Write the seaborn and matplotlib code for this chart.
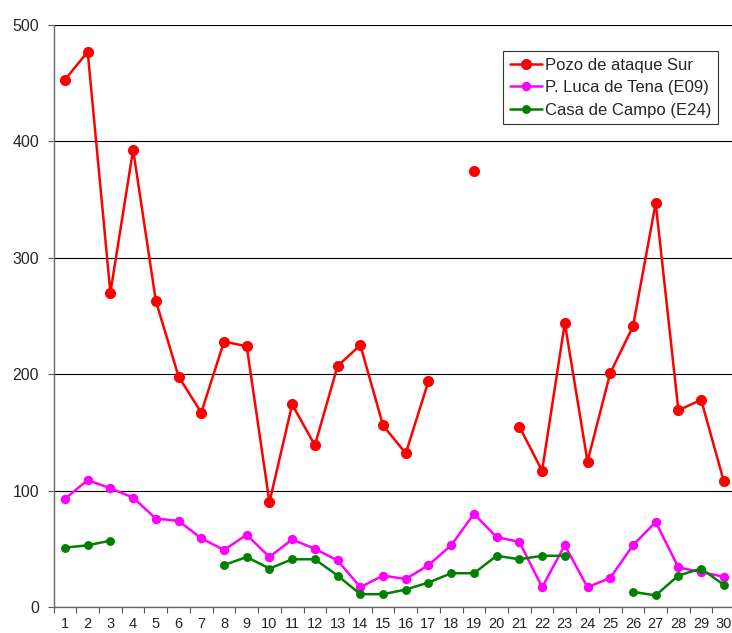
import numpy as np
import pandas as pd
import matplotlib
matplotlib.use("Agg")
import matplotlib.pyplot as plt
import seaborn as sns

days = list(range(1, 31))
pozo = [453, 477, 270, 393, 263, 198, 167, 228, 224, 90,
        174, 139, 207, 225, 156, 132, 194, np.nan, 375, np.nan,
        155, 117, 244, 125, 201, 241, 347, 169, 178, 108]
luca = [93, 109, 102, 94, 76, 74, 59, 49, 62, 43,
        58, 50, 40, 17, 27, 24, 36, 53, 80, 60,
        56, 17, 53, 17, 25, 53, 73, 34, 30, 26]
campo = [51, 53, 57, np.nan, np.nan, np.nan, np.nan, 36, 43, 33,
         41, 41, 27, 11, 11, 15, 21, 29, 29, 44,
         41, 44, 44, np.nan, np.nan, 13, 10, 27, 33, 19]
series_names = ["Pozo de ataque Sur", "P. Luca de Tena (E09)", "Casa de Campo (E24)"]
colors = ["#ff0000", "#ff00ff", "#008000"]

rows = []
for name, vals in zip(series_names, [pozo, luca, campo]):
    seg = 0
    prev_nan = True
    for d, v in zip(days, vals):
        if v is None or (isinstance(v, float) and np.isnan(v)):
            prev_nan = True
            continue
        if prev_nan:
            seg += 1
            prev_nan = False
        rows.append({"day": d, "value": v, "series": name, "seg": f"{name}-{seg}"})
df = pd.DataFrame(rows)

sns.set_style("white")
plt.rcParams["font.family"] = ["Liberation Sans", "DejaVu Sans"]

W, H = 732, 633
fig = plt.figure(figsize=(W / 100, H / 100), dpi=100)
left, right = 53.6, 53.6 + 30 * 22.72
top, bottom = 25, 607
ax = fig.add_axes([left / W, (H - bottom) / H, (right - left) / W, (bottom - top) / H])

for name, col, ms in zip(series_names, colors, [8, 6.8, 6.4]):
    sub = df[df["series"] == name]
    sns.lineplot(data=sub, x="day", y="value", units="seg", estimator=None,
                 color=col, marker="o", markersize=ms, markeredgewidth=0,
                 linewidth=1.8, ax=ax, label=name, sort=True)

ax.set_xlim(0.5, 30.5)
ax.set_ylim(0, 500)
ax.set_yticks(range(0, 501, 100))
ax.yaxis.grid(True, color="black", linewidth=0.8)
ax.set_axisbelow(True)
ax.set_xticks(np.arange(0.5, 30.6, 1))
ax.set_xticklabels([])
ax.set_xticks(days, minor=True)
ax.set_xticklabels([str(d) for d in days], minor=True)
ax.tick_params(axis="x", which="major", length=4, width=0.8, color="#555555", direction="out", bottom=True)
ax.tick_params(axis="x", which="minor", length=0, labelsize=10.5, pad=7.5, bottom=True)
ax.tick_params(axis="y", length=4, width=0.8, color="#555555", direction="out", labelsize=11.5, pad=6.5, left=True)
ax.set_xlabel("")
ax.set_ylabel("")
for s in ["top", "right"]:
    ax.spines[s].set_visible(False)
for s in ["left", "bottom"]:
    ax.spines[s].set_color("#666666")
    ax.spines[s].set_linewidth(1.0)

handles, labels = ax.get_legend_handles_labels()
seen = {}
for h, l in zip(handles, labels):
    if l not in seen:
        seen[l] = h
leg = ax.legend([seen[n] for n in series_names], series_names,
                loc="upper right", bbox_to_anchor=(718 / W, 1 - 51 / H),
                bbox_transform=fig.transFigure, borderaxespad=0,
                frameon=True, fancybox=False,
                edgecolor="black", fontsize=12, handlelength=1.9,
                handletextpad=0.2, borderpad=0.4, labelspacing=0.45)
leg.get_frame().set_linewidth(0.8)

fig.savefig("out.png", dpi=100)
